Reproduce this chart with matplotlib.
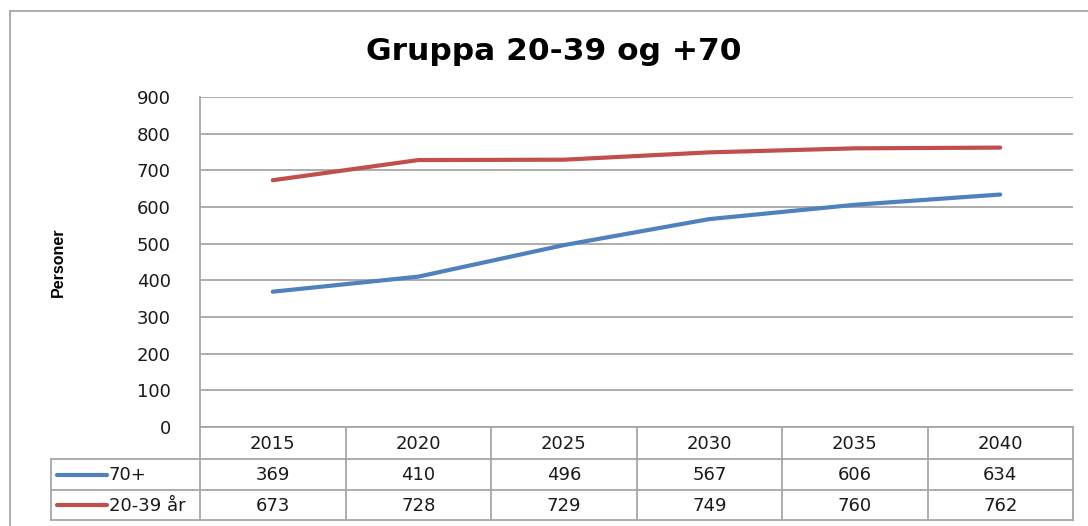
import matplotlib
matplotlib.use("Agg")
import matplotlib.pyplot as plt
from matplotlib.lines import Line2D

years = ["2015", "2020", "2025", "2030", "2035", "2040"]
series_names = ["70+", "20-39 år"]
vals_70 = [369, 410, 496, 567, 606, 634]
vals_2039 = [673, 728, 729, 749, 760, 762]
colors = ["#4F81BD", "#C0504D"]
title = "Gruppa 20-39 og +70"
y_label = "Personer"

W, H = 1088, 526
grid_col = "#A6A6A6"
txt_col = "#1A1A1A"

fig = plt.figure(figsize=(W / 100, H / 100), dpi=100)


def fx(px):
    return px / W


def fy(py):
    return 1 - py / H


# outer chart frame (left and top edges visible)
fig.add_artist(Line2D([fx(10), fx(10)], [fy(11), 0], color=grid_col, lw=1.3))
fig.add_artist(Line2D([fx(10), 1], [fy(11), fy(11)], color=grid_col, lw=1.3))

# plot area
left, right, top, bottom = 200, 1073, 97, 427
ax = fig.add_axes([fx(left), fy(bottom), fx(right - left), (bottom - top) / H])
x = list(range(len(years)))
all_vals = [vals_70, vals_2039]
for vals, c in zip(all_vals, colors):
    ax.plot(x, vals, color=c, lw=3.0, solid_capstyle="round", zorder=3)

ax.set_xlim(-0.5, len(years) - 0.5)
ax.set_ylim(0, 900)
ax.set_yticks(range(0, 901, 100))
ax.set_xticks([])
ax.yaxis.grid(True, color=grid_col, lw=1.3)
ax.set_axisbelow(True)
for s in ["top", "right", "bottom"]:
    ax.spines[s].set_visible(False)
ax.spines["left"].set_color(grid_col)
ax.spines["left"].set_linewidth(1.3)
ax.tick_params(axis="y", length=0, pad=21, labelsize=13, labelcolor=txt_col)

fig.text(fx(58), fy(262), y_label, ha="center", va="center", rotation=90,
         fontsize=11.5, fontweight="bold", family="Liberation Sans", color="black")

fig.text(fx(554), fy(51), title, ha="center", va="center", fontsize=22.5,
         fontweight="bold", family="DejaVu Sans", color="black")

# data table below the plot
tab_left, tab_bottom = 51, 520
col_w = (right - left) / len(years)
legend_w = (left - tab_left) / col_w
tab = fig.add_axes([fx(tab_left), fy(tab_bottom), fx(right - tab_left), (tab_bottom - bottom) / H])
tab.set_xlim(-0.5 - legend_w, len(years) - 0.5)
row_edges = [0, 32, 63, 93]
tab.set_ylim(row_edges[-1], 0)
tab.axis("off")

lk = dict(color=grid_col, lw=1.3, clip_on=False)
xl, xr = -0.5 - legend_w, len(years) - 0.5
# horizontal rules
tab.plot([-0.5, xr], [row_edges[0]] * 2, **lk)
for r in row_edges[1:]:
    tab.plot([xl, xr], [r, r], **lk)
# vertical rules
tab.plot([xl, xl], [row_edges[1], row_edges[-1]], **lk)
for i in range(len(years) + 1):
    tab.plot([i - 0.5, i - 0.5], [row_edges[0], row_edges[-1]], **lk)

fs = 13
for i, yr in enumerate(years):
    tab.text(i, (row_edges[0] + row_edges[1]) / 2 + 1, yr, ha="center", va="center",
             fontsize=fs, color=txt_col)
for k, (name, vals, c) in enumerate(zip(series_names, all_vals, colors)):
    yc = (row_edges[k + 1] + row_edges[k + 2]) / 2
    tab.plot([xl + 6 / col_w, xl + 56 / col_w], [yc, yc], color=c, lw=3.0,
             solid_capstyle="round", clip_on=False)
    tab.text(xl + 58 / col_w, yc + 1, name, ha="left", va="center", fontsize=fs, color=txt_col)
    for i, v in enumerate(vals):
        tab.text(i, yc + 1, str(v), ha="center", va="center", fontsize=fs, color=txt_col)

fig.savefig("out.png", dpi=100)
